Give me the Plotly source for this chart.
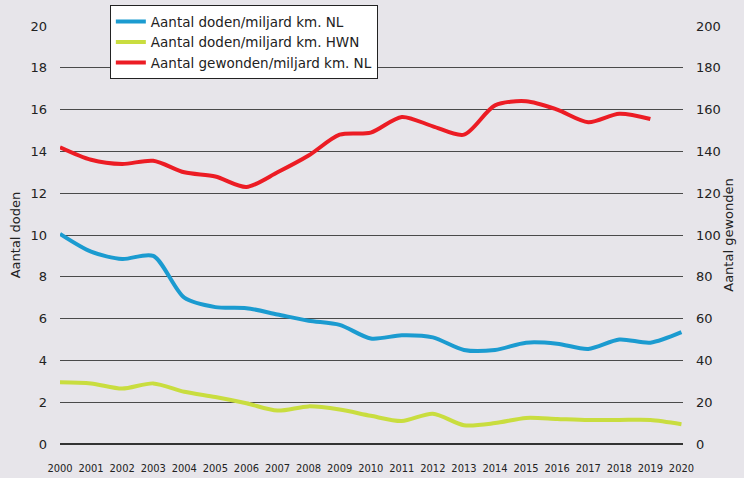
import plotly.graph_objects as go

# years on the x axis
years = list(range(2000, 2021))

# deaths per billion km, Netherlands (left axis)
doden_nl = [10.05, 9.2, 8.85, 9.0, 7.0, 6.55, 6.5, 6.2, 5.9, 5.7, 5.05,
            5.2, 5.1, 4.5, 4.5, 4.85, 4.8, 4.55, 5.0, 4.85, 5.35]

# deaths per billion km, main road network (left axis)
doden_hwn = [2.95, 2.9, 2.65, 2.9, 2.5, 2.25, 1.95, 1.6, 1.8, 1.65, 1.35,
             1.1, 1.45, 0.9, 1.0, 1.25, 1.2, 1.15, 1.15, 1.15, 0.95]

# injured per billion km, Netherlands (right axis, no 2020 value)
gewonden_years = list(range(2000, 2020))
gewonden_nl = [142, 136, 134, 135.5, 130, 128, 123, 130, 138, 148, 149,
               156.5, 152, 148, 162, 164, 160, 154, 158, 155.5]

left_ticks = list(range(0, 21, 2))
right_ticks = list(range(0, 201, 20))

font_main = "DejaVu Sans"

fig = go.Figure()

fig.add_trace(go.Scatter(
    x=years, y=doden_nl, mode='lines', name='Aantal doden/miljard km. NL',
    line=dict(color='#1b9bd0', width=4, shape='spline', smoothing=0.8)
))
fig.add_trace(go.Scatter(
    x=years, y=doden_hwn, mode='lines', name='Aantal doden/miljard km. HWN',
    line=dict(color='#c9dd3f', width=4, shape='spline', smoothing=0.8)
))
fig.add_trace(go.Scatter(
    x=gewonden_years, y=gewonden_nl, mode='lines', name='Aantal gewonden/miljard km. NL',
    line=dict(color='#ec1c24', width=4, shape='spline', smoothing=0.8),
    yaxis='y2'
))

fig.update_layout(
    width=744, height=478,
    margin=dict(l=60, r=61, t=26, b=34, autoexpand=False),
    paper_bgcolor='#e7e5ea',
    plot_bgcolor='rgba(0,0,0,0)',
    font=dict(family=font_main, size=13, color='#222'),
    showlegend=True,
    legend=dict(
        x=0.08, y=1.05, xanchor='left', yanchor='top',
        bgcolor='white', bordercolor='#222', borderwidth=1,
        font=dict(size=13.5, color='#222'),
        tracegroupgap=0, itemwidth=30,
    ),
    xaxis=dict(
        range=[2000, 2020.05],
        tickvals=years,
        ticktext=[str(y) for y in years],
        showgrid=False, zeroline=False, showline=False,
        tickfont=dict(family='DejaVu Sans Condensed', size=11, color='#222'),
        ticks='', ticklabelstandoff=16,
    ),
    yaxis=dict(
        range=[0, 20],
        tickvals=left_ticks,
        showgrid=True, gridcolor='#4a4a4a', gridwidth=1,
        zeroline=True, zerolinecolor='#333', zerolinewidth=1.5,
        showline=False,
        ticks='', ticklabelstandoff=12,
        title=dict(text='Aantal doden', standoff=6, font=dict(size=13)),
    ),
    yaxis2=dict(
        range=[0, 200],
        tickvals=right_ticks,
        overlaying='y', side='right',
        showgrid=False, zeroline=False, showline=False,
        ticks='', ticklabelstandoff=12,
        title=dict(text='Aantal gewonden', standoff=4, font=dict(size=13)),
    ),
)

# the page has a default body margin; remove it so the figure sits at 0,0
fig.write_html("out.html", config={'displayModeBar': False},
               post_script="document.body.style.margin='0';")
